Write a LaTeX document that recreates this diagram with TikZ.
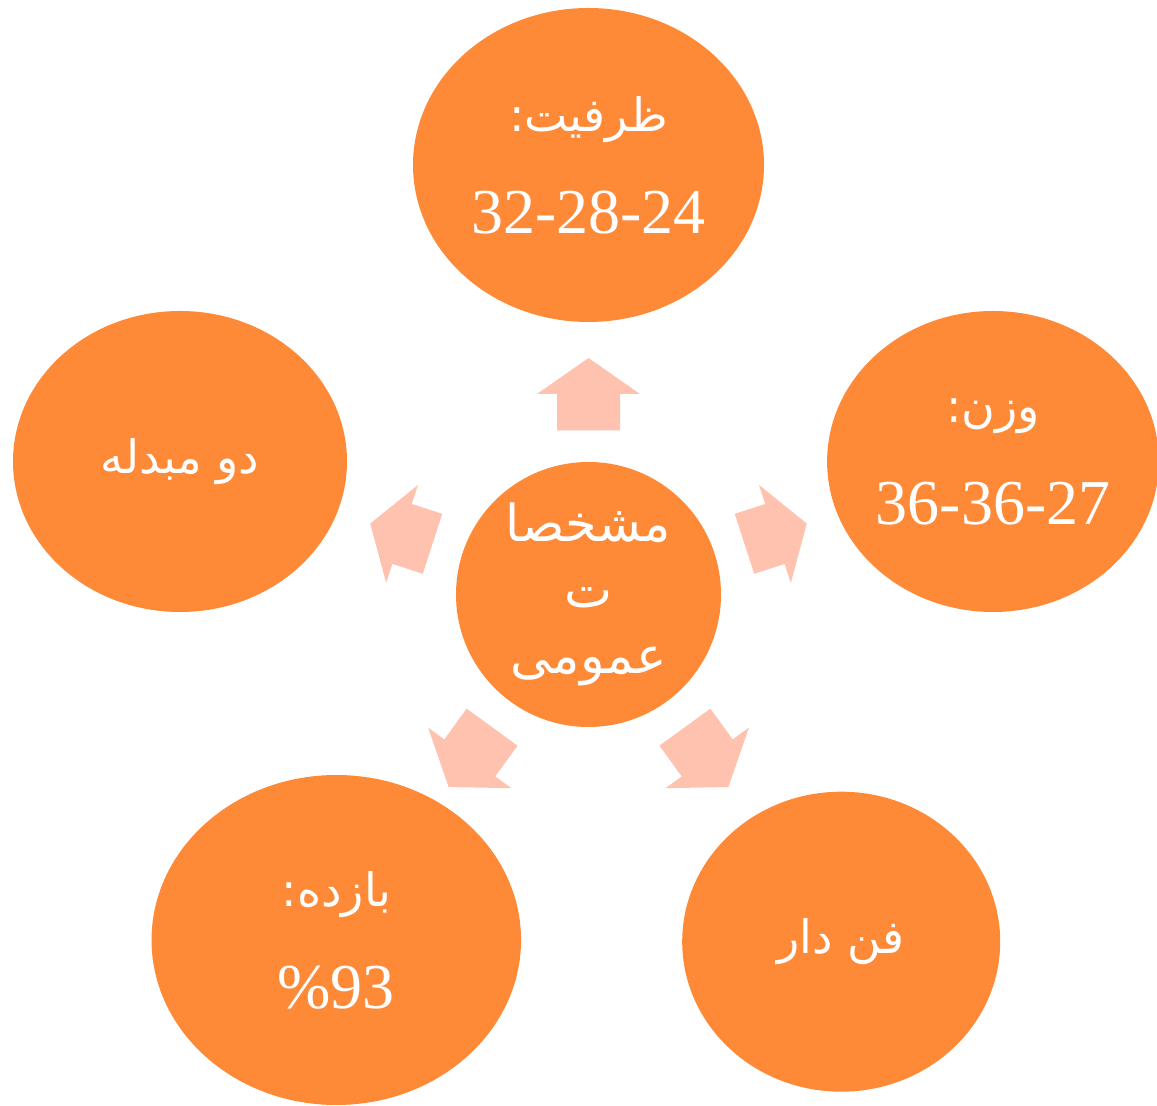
\documentclass[tikz,border=0pt]{standalone}
\usepackage{fontspec}
\setmainfont{Liberation Serif}
\newfontfamily\arabicfont[Script=Arabic]{DejaVu Sans}
\TeXXeTstate=1
\usetikzlibrary{shapes.geometric}
\definecolor{bubbleorange}{HTML}{FE8A38}
\definecolor{spokepink}{HTML}{FEC2AE}
\tikzset{
% Orange bubbles round the hub, pale block arrows pointing out of it
bubble/.style={ellipse,fill=bubbleorange,inner sep=0,text=white,align=center,font=\fontsize{64}{102}\selectfont},
pics/spoke/.style args={#1/#2}{code={\fill[spokepink] (164,-31.5) -- (#1,-31.5) -- (#1,-51.5) -- (#2,0) -- (#1,51.5) -- (#1,31.5) -- (164,31.5) -- cycle;}}
}
\newcommand{\fatext}[1]{{\arabicfont\fontsize{46}{102}\selectfont\beginR #1\endR}}

\begin{document}
\begin{tikzpicture}[x=1pt,y=1pt]
\clip[use as bounding box] (0,0) rectangle (1157,1106);
\node[bubble,minimum width=265,minimum height=265,font=\fontsize{51}{66}\selectfont] (hub) at (588.5,511.5)
  {{\arabicfont\beginR مشخصا\endR}\\{\arabicfont\beginR ت\endR}\\{\arabicfont\beginR عمومی\endR}};
\node[bubble,minimum width=351,minimum height=314] (capacity) at (588.5,941) {\fatext{ظرفیت:}\\32-28-24};
\node[bubble,minimum width=328,minimum height=301] (weight) at (993,644.5) {\fatext{وزن:}\\36-36-27};
\node[bubble,minimum width=334,minimum height=301] (exchanger) at (180,644.5) {\fatext{دو مبدله}};
\node[bubble,minimum width=369.5,minimum height=330] (efficiency) at (336.3,166) {\fatext{بازده:}\\\%93};
\node[bubble,minimum width=318,minimum height=300] (fan) at (841.2,164.3) {\fatext{فن دار}};

\pic[rotate=90] at (hub.center) {spoke=200.5/236.5};
\pic[rotate=18] at (hub.center) {spoke=196/229.5};
\pic[rotate=162] at (hub.center) {spoke=196/229.5};
\pic[rotate=-54] at (hub.center) {spoke=202/238};
\pic[rotate=-126] at (hub.center) {spoke=202/238};
\end{tikzpicture}
\end{document}
